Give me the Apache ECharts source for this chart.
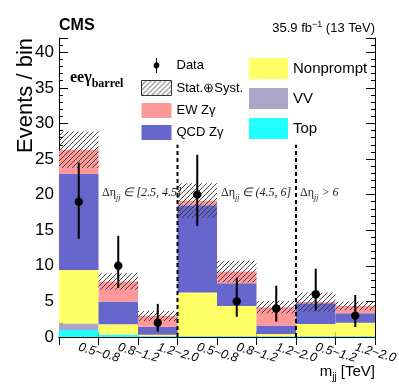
<!DOCTYPE html>
<html>
<head>
<meta charset="utf-8">
<title>EW Zgamma mjj</title>
<script src="https://cdn.jsdelivr.net/npm/echarts@6/dist/echarts.min.js"></script>
<style>
  html, body { margin: 0; padding: 0; background: #fff; }
  #main { width: 399px; height: 387px; }
</style>
</head>
<body>
<div id="main"></div>
<script type="text/javascript">
// bins: mjj ranges, three delta-eta regions
var binLabels = ['0.5~0.8', '0.8~1.2', '1.2~2.0', '0.5~0.8', '0.8~1.2', '1.2~2.0', '0.5~1.2', '1.2~2.0'];

// stacked contributions (events / bin), bottom to top
var topBkg    = [1.0, 0.3, 0.1, 0.1, 0.1, 0.1, 0.1, 0.1];
var vvBkg     = [0.9, 0.05, 0.05, 0.05, 0.05, 0.05, 0.05, 0.05];
var nonprompt = [7.5, 1.45, 0.15, 6.1, 4.2, 0.27, 1.68, 1.85];
var qcdZg     = [13.5, 3.2, 1.15, 12.25, 3.2, 1.18, 2.92, 1.34];
var ewZg      = [3.4, 2.8, 1.5, 0.65, 1.65, 2.58, 0.15, 1.03];
// stat+syst uncertainty (half width) on the total
var uncert    = [2.55, 1.17, 0.71, 2.45, 1.5, 0.89, 1.34, 0.6];

// observed data with error bars
var dataVals = [19, 10, 2, 20, 5, 4, 6, 3];
var dataLo   = [13.8, 6.9, 0.75, 15.6, 2.85, 2.15, 3.7, 1.4];
var dataHi   = [24.5, 14.2, 4.65, 25.6, 8.35, 7.2, 9.6, 5.9];

// region separators (bin edge, height)
var sepEdges = [3, 6];
var sepTop = 27;

// hatch pattern
var hatch = document.createElement('canvas');
hatch.width = 5; hatch.height = 5;
(function () {
    var c = hatch.getContext('2d');
    c.strokeStyle = '#333';
    c.lineWidth = 0.9;
    c.beginPath();
    c.moveTo(0, 5); c.lineTo(5, 0);
    c.moveTo(-1, 1); c.lineTo(1, -1);
    c.moveTo(4, 6); c.lineTo(6, 4);
    c.stroke();
})();
var hatchFill = { image: hatch, repeat: 'repeat' };

var comps = [
    { name: 'Top', vals: topBkg, color: '#22ffff' },
    { name: 'VV', vals: vvBkg, color: '#aaa6c8' },
    { name: 'Nonprompt', vals: nonprompt, color: '#ffff66' },
    { name: 'QCD Zγ', vals: qcdZg, color: '#6666cc' },
    { name: 'EW Zγ', vals: ewZg, color: '#ff9999' }
];

function rectItem(params, api) {
    var i = api.value(0);
    var p0 = api.coord([i, api.value(1)]);
    var p1 = api.coord([i + 1, api.value(2)]);
    return {
        type: 'rect',
        shape: { x: p0[0], y: p1[1], width: p1[0] - p0[0], height: p0[1] - p1[1] },
        style: api.style({ stroke: null })
    };
}

var series = [];
var base = binLabels.map(function () { return 0; });
comps.forEach(function (cp) {
    var rows = cp.vals.map(function (v, i) {
        var r = [i, base[i], base[i] + v];
        base[i] += v;
        return r;
    });
    series.push({
        type: 'custom', name: cp.name, xAxisIndex: 0, yAxisIndex: 0,
        renderItem: rectItem, itemStyle: { color: cp.color },
        data: rows, z: 2
    });
});

series.push({
    type: 'custom', name: 'Stat.⊕Syst.', xAxisIndex: 0, yAxisIndex: 0,
    itemStyle: { color: hatchFill },
    renderItem: function (params, api) {
        var i = api.value(0);
        var p0 = api.coord([i, api.value(1)]);
        var p1 = api.coord([i + 1, api.value(2)]);
        return {
            type: 'rect',
            shape: { x: p0[0], y: p1[1], width: p1[0] - p0[0], height: p0[1] - p1[1] },
            style: { fill: hatchFill, stroke: null }
        };
    },
    data: base.map(function (t, i) { return [i, t - uncert[i], t + uncert[i]]; }),
    z: 3
});

series.push({
    type: 'custom', name: 'sep', xAxisIndex: 0, yAxisIndex: 0,
    renderItem: function (params, api) {
        var a = api.coord([api.value(0), 0]);
        var b = api.coord([api.value(0), api.value(1)]);
        return {
            type: 'line',
            shape: { x1: a[0], y1: a[1], x2: b[0], y2: b[1] },
            style: { stroke: '#000', lineWidth: 2, lineDash: [4, 3] }
        };
    },
    data: sepEdges.map(function (e) { return [e, sepTop]; }),
    z: 4
});

series.push({
    type: 'custom', name: 'Data', xAxisIndex: 0, yAxisIndex: 0,
    itemStyle: { color: '#000' },
    renderItem: function (params, api) {
        var x = api.value(0) + 0.5;
        var c = api.coord([x, api.value(1)]);
        var lo = api.coord([x, api.value(2)]);
        var hi = api.coord([x, api.value(3)]);
        return {
            type: 'group',
            children: [
                { type: 'line', shape: { x1: lo[0], y1: lo[1], x2: hi[0], y2: hi[1] },
                  style: { stroke: '#000', lineWidth: 2 } },
                { type: 'circle', shape: { cx: c[0], cy: c[1], r: 4.2 },
                  style: { fill: '#000' } }
            ]
        };
    },
    data: dataVals.map(function (v, i) { return [i, v, dataLo[i], dataHi[i]]; }),
    z: 5
});

var font = 'Liberation Sans, Arial, sans-serif';
var serif = 'Liberation Serif, Times New Roman, serif';

var etaRich = {
    a: { fontFamily: serif, fontSize: 12, fill: '#222', lineHeight: 13, verticalAlign: 'top' },
    s: { fontFamily: serif, fontSize: 8, fontStyle: 'italic', fill: '#222', lineHeight: 9, padding: [7, 0, 0, 0], verticalAlign: 'top' },
    i: { fontFamily: serif, fontSize: 12, fontStyle: 'italic', fill: '#222', lineHeight: 13, verticalAlign: 'top' }
};
function etaLabel(x, rest) {
    return {
        type: 'text', x: x, y: 193,
        style: { text: '{a|Δη}{s|jj}{i|' + rest + '}', verticalAlign: 'middle', rich: etaRich },
        z: 10
    };
}

var myChart = echarts.init(document.getElementById('main'), null, { renderer: 'canvas' });
var option = {
    backgroundColor: '#fff',
    animation: false,
    grid: { left: 59, right: 24, top: 38, bottom: 50, containLabel: false, outerBoundsMode: 'none' },
    xAxis: [
        { type: 'value', min: 0, max: 8, interval: 1, position: 'bottom',
          axisLine: { show: true, lineStyle: { color: '#000', width: 1 } },
          axisTick: { show: true, inside: true, length: 5, lineStyle: { color: '#000' } },
          axisLabel: { show: false }, splitLine: { show: false } },
        { type: 'category', data: binLabels, position: 'bottom', boundaryGap: true,
          axisLine: { show: false }, axisTick: { show: false },
          axisLabel: { show: true, interval: 0, rotate: -16, margin: 10, align: 'left', verticalAlign: 'middle',
                       fontFamily: font, fontSize: 12.5, fontStyle: 'italic', color: '#000', hideOverlap: false },
          splitLine: { show: false } },
        { type: 'value', min: 0, max: 8, interval: 1, position: 'top',
          axisLine: { show: true, lineStyle: { color: '#000', width: 1 } },
          axisTick: { show: true, inside: true, length: 8, lineStyle: { color: '#000' } },
          axisLabel: { show: false }, splitLine: { show: false } }
    ],
    yAxis: [
        { type: 'value', min: 0, max: 42, interval: 5, position: 'left',
          axisLine: { show: true, lineStyle: { color: '#000', width: 1 } },
          axisTick: { show: true, inside: true, length: 9, lineStyle: { color: '#000' } },
          axisLabel: { show: true, margin: 5, fontFamily: font, fontSize: 17, color: '#000',
                       formatter: function (v) { return v % 5 === 0 ? v : ''; } },
          splitLine: { show: false } },
        { type: 'value', min: 0, max: 42, interval: 1, position: 'left',
          axisLine: { show: false },
          axisTick: { show: true, inside: true, length: 4, lineStyle: { color: '#000' } },
          axisLabel: { show: false }, splitLine: { show: false } },
        { type: 'value', min: 0, max: 42, interval: 5, position: 'right',
          axisLine: { show: true, lineStyle: { color: '#000', width: 1 } },
          axisTick: { show: true, inside: true, length: 9, lineStyle: { color: '#000' } },
          axisLabel: { show: false }, splitLine: { show: false } },
        { type: 'value', min: 0, max: 42, interval: 1, position: 'right',
          axisLine: { show: false },
          axisTick: { show: true, inside: true, length: 4, lineStyle: { color: '#000' } },
          axisLabel: { show: false }, splitLine: { show: false } }
    ],
    legend: [
        { orient: 'vertical', left: 136, top: 53, itemWidth: 30, itemHeight: 15, itemGap: 7,
          textStyle: { fontFamily: font, fontSize: 13, color: '#000' },
          selectedMode: false,
          data: [
              { name: 'Data', icon: 'path://M3.4,0 H4.6 V5.2 A4,4 0 0 1 4.6,12.8 V18 H3.4 V12.8 A4,4 0 0 1 3.4,5.2 Z', itemStyle: { color: '#000' } },
              { name: 'Stat.⊕Syst.', icon: 'rect', itemStyle: { color: hatchFill, borderColor: '#333', borderWidth: 1 } },
              { name: 'EW Zγ', icon: 'rect' },
              { name: 'QCD Zγ', icon: 'rect' }
          ] },
        { orient: 'vertical', left: 244, top: 53, itemWidth: 39, itemHeight: 21, itemGap: 9,
          textStyle: { fontFamily: font, fontSize: 15, color: '#000' },
          selectedMode: false,
          data: [
              { name: 'Nonprompt', icon: 'rect' },
              { name: 'VV', icon: 'rect' },
              { name: 'Top', icon: 'rect' }
          ] }
    ],
    graphic: [
        { type: 'text', x: 59, y: 26, style: { text: 'CMS', fontFamily: font, fontWeight: 'bold', fontSize: 16, fill: '#000', verticalAlign: 'middle' } },
        { type: 'text', x: 375, y: 27, style: {
            text: '{n|35.9 fb}{u|−1}{n| (13 TeV)}', align: 'right', verticalAlign: 'middle',
            rich: {
                n: { fontFamily: font, fontSize: 13, fill: '#000', lineHeight: 16, verticalAlign: 'bottom' },
                u: { fontFamily: font, fontSize: 9, fill: '#000', lineHeight: 10, padding: [0, 0, 6, 0], verticalAlign: 'bottom' }
            } } },
        { type: 'text', x: 26, y: 38, rotation: Math.PI / 2, style: {
            text: 'Events / bin', fontFamily: font, fontSize: 22, fill: '#000', align: 'right', verticalAlign: 'middle' } },
        { type: 'text', x: 70, y: 70, style: {
            text: '{a|eeγ}{b|barrel}',
            rich: {
                a: { fontFamily: serif, fontWeight: 'bold', fontSize: 16, fill: '#000', lineHeight: 17, verticalAlign: 'top' },
                b: { fontFamily: serif, fontWeight: 'bold', fontSize: 12, fill: '#000', lineHeight: 13, padding: [8, 0, 0, 0], verticalAlign: 'top' }
            } } },
        etaLabel(102, ' ∈ [2.5, 4.5]'),
        etaLabel(221, ' ∈ (4.5, 6]'),
        etaLabel(300, ' > 6'),
        { type: 'text', x: 375, y: 372, style: {
            text: '{n|m}{s|jj}{n| [TeV]}', align: 'right', verticalAlign: 'middle',
            rich: {
                n: { fontFamily: font, fontSize: 15, fill: '#000', lineHeight: 16, verticalAlign: 'top' },
                s: { fontFamily: font, fontSize: 10, fill: '#000', lineHeight: 11, padding: [8, 0, 0, 0], verticalAlign: 'top' }
            } } }
    ],
    series: series
};
myChart.setOption(option);
</script>
</body>
</html>
